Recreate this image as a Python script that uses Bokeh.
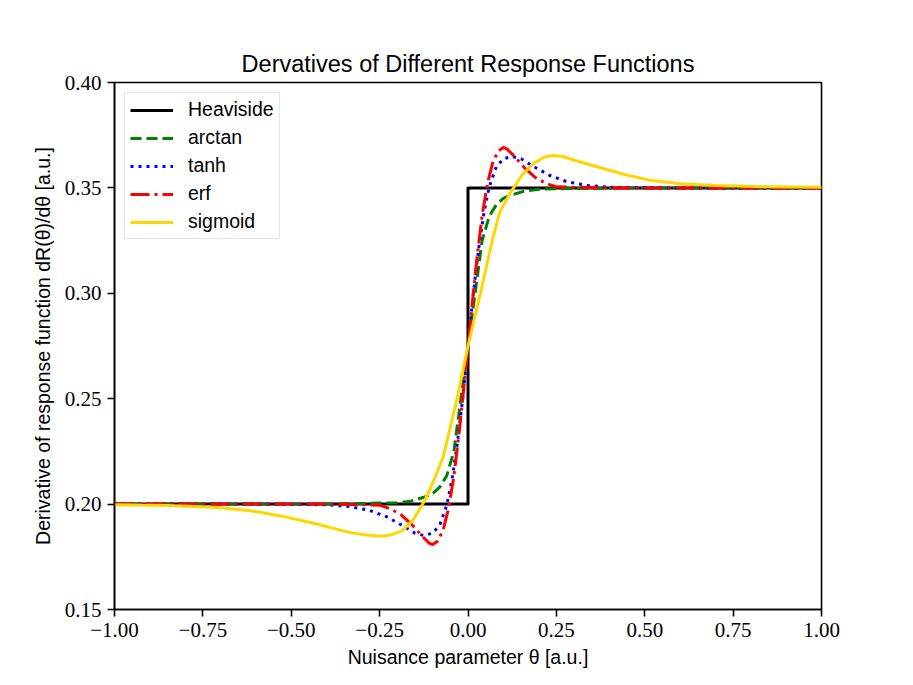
from bokeh.plotting import figure
from bokeh.models import Range1d, FixedTicker
from bokeh.embed import file_html
from bokeh.resources import INLINE

# ---------------- data ----------------
x_heaviside = [-1.0, 0.0, 0.0, 1.0]
y_heaviside = [0.2, 0.2, 0.35, 0.35]

x_arctan = [-1.0, -0.6, -0.4, -0.3, -0.2, -0.16, -0.12, -0.1, -0.08, -0.06, -0.04, -0.02,
            0.0, 0.02, 0.04, 0.06, 0.08, 0.1, 0.12, 0.16, 0.2, 0.3, 0.4, 0.6, 1.0]
y_arctan = [0.2, 0.2, 0.2001, 0.2003, 0.2006, 0.2015, 0.2035, 0.205, 0.208, 0.2135, 0.225, 0.25,
            0.275, 0.3, 0.325, 0.3365, 0.342, 0.345, 0.3465, 0.3485, 0.3494, 0.3497, 0.3499, 0.35, 0.35]

x_tanh = [-1.0, -0.6, -0.4, -0.34, -0.28, -0.23, -0.18, -0.15, -0.125, -0.1, -0.08, -0.06,
          -0.045, -0.03, -0.015, 0.0, 0.015, 0.03, 0.045, 0.06, 0.08, 0.1, 0.125, 0.15,
          0.18, 0.23, 0.28, 0.34, 0.4, 0.6, 1.0]
y_tanh = [0.2, 0.2, 0.1997, 0.1989, 0.1971, 0.1940, 0.1893, 0.1862, 0.1851, 0.1862, 0.1900, 0.1995,
          0.2120, 0.2290, 0.2500, 0.275, 0.300, 0.321, 0.338, 0.3505, 0.3600, 0.3638, 0.3649, 0.3638,
          0.3607, 0.3560, 0.3529, 0.3511, 0.3503, 0.35, 0.35]

x_erf = [-1.0, -0.4, -0.25, -0.22, -0.19, -0.16, -0.13, -0.11, -0.1, -0.085, -0.07, -0.055,
         -0.04, -0.025, -0.012, 0.0, 0.012, 0.025, 0.04, 0.055, 0.07, 0.085, 0.1, 0.11,
         0.13, 0.16, 0.19, 0.22, 0.25, 0.4, 1.0]
y_erf = [0.2, 0.2, 0.1995, 0.1978, 0.1950, 0.1905, 0.1848, 0.1815, 0.1808, 0.1825, 0.1880, 0.1980,
         0.2130, 0.2340, 0.2550, 0.275, 0.295, 0.316, 0.337, 0.352, 0.362, 0.3675, 0.3692, 0.3685,
         0.3652, 0.3595, 0.3550, 0.3522, 0.3505, 0.35, 0.35]

x_sigmoid = [-1.0, -0.85, -0.72, -0.62, -0.53, -0.43, -0.34, -0.29, -0.245, -0.215, -0.185, -0.155,
             -0.125, -0.11, -0.09, -0.07, -0.035, 0.0, 0.035, 0.07, 0.09, 0.12, 0.155, 0.185,
             0.215, 0.24, 0.265, 0.29, 0.34, 0.44, 0.51, 0.6, 0.7, 0.85, 1.0]
y_sigmoid = [0.1997, 0.1993, 0.1985, 0.1970, 0.1944, 0.1907, 0.1867, 0.1853, 0.1848, 0.1855, 0.1875, 0.1925,
             0.2010, 0.2060, 0.2140, 0.2225, 0.2470, 0.275, 0.300, 0.326, 0.3385, 0.3478, 0.3565, 0.3615,
             0.3645, 0.3654, 0.3650, 0.3637, 0.3612, 0.3565, 0.3538, 0.3520, 0.3511, 0.3505, 0.3503]

x_ticks = [-1.0, -0.75, -0.5, -0.25, 0.0, 0.25, 0.5, 0.75, 1.0]
x_tick_labels = ["\u22121.00", "\u22120.75", "\u22120.50", "\u22120.25", "0.00", "0.25", "0.50", "0.75", "1.00"]
y_ticks = [0.15, 0.2, 0.25, 0.3, 0.35, 0.4]
y_tick_labels = ["0.15", "0.20", "0.25", "0.30", "0.35", "0.40"]

series_names = ["Heaviside", "arctan", "tanh", "erf", "sigmoid"]
series_colors = ["black", "#008000", "#0000ff", "#ff0000", "#ffd700"]

# ---------------- figure ----------------
p = figure(width=905, height=677, output_backend="svg", toolbar_location=None,
           x_range=Range1d(-1.0, 1.0), y_range=Range1d(0.15, 0.40),
           min_border_left=114, min_border_right=84, min_border_top=82, min_border_bottom=68,
           title="Dervatives of Different Response Functions")

p.title.align = "center"
p.title.text_font = "Liberation Sans"
p.title.text_font_size = "23.5px"
p.title.text_font_style = "normal"
p.title.text_color = "black"
p.title.standoff = 12

p.grid.visible = False
p.outline_line_color = "black"
p.outline_line_width = 1.6
p.background_fill_color = "white"
p.border_fill_color = "white"

dashes = ["solid", "11 5", "3 5", "19 5 3 5", "solid"]
xs = [x_heaviside, x_arctan, x_tanh, x_erf, x_sigmoid]
ys = [y_heaviside, y_arctan, y_tanh, y_erf, y_sigmoid]
for xv, yv, name, col, dash in zip(xs, ys, series_names, series_colors, dashes):
    p.line(xv, yv, line_color=col, line_width=3, line_dash=dash, legend_label=name,
           line_cap="butt", line_join="round")

for ax, ticks, labels in ((p.xaxis[0], x_ticks, x_tick_labels), (p.yaxis[0], y_ticks, y_tick_labels)):
    ax.ticker = FixedTicker(ticks=ticks)
    ax.major_label_overrides = {t: l for t, l in zip(ticks, labels)}
    ax.major_label_text_font = "Liberation Serif"
    ax.major_label_text_font_size = "21px"
    ax.major_label_text_color = "black"
    ax.major_tick_in = 0
    ax.major_tick_out = 7
    ax.major_tick_line_width = 1.6
    ax.major_tick_line_color = "black"
    ax.minor_tick_line_color = None
    ax.axis_line_width = 1.6
    ax.axis_line_color = "black"
    ax.axis_label_text_font = "Liberation Sans"
    ax.axis_label_text_font_size = "19.5px"
    ax.axis_label_text_font_style = "normal"
    ax.axis_label_text_color = "black"
    ax.major_label_standoff = 6

p.xaxis.axis_label = "Nuisance parameter \u03b8 [a.u.]"
p.yaxis.axis_label = "Derivative of response function dR(\u03b8)/d\u03b8 [a.u.]"
p.xaxis.axis_label_standoff = 6
p.yaxis.axis_label_standoff = 8

lg = p.legend[0]
lg.location = "top_left"
lg.margin = 10
lg.padding = 5
lg.spacing = 5
lg.glyph_width = 43
lg.glyph_height = 20
lg.label_height = 20
lg.label_standoff = 15
lg.label_text_font = "Liberation Sans"
lg.label_text_font_size = "19.5px"
lg.label_text_color = "black"
lg.border_line_color = "#cccccc"
lg.border_line_width = 1.4
lg.background_fill_alpha = 0.8

open("out.html", "w").write(file_html(p, INLINE))
